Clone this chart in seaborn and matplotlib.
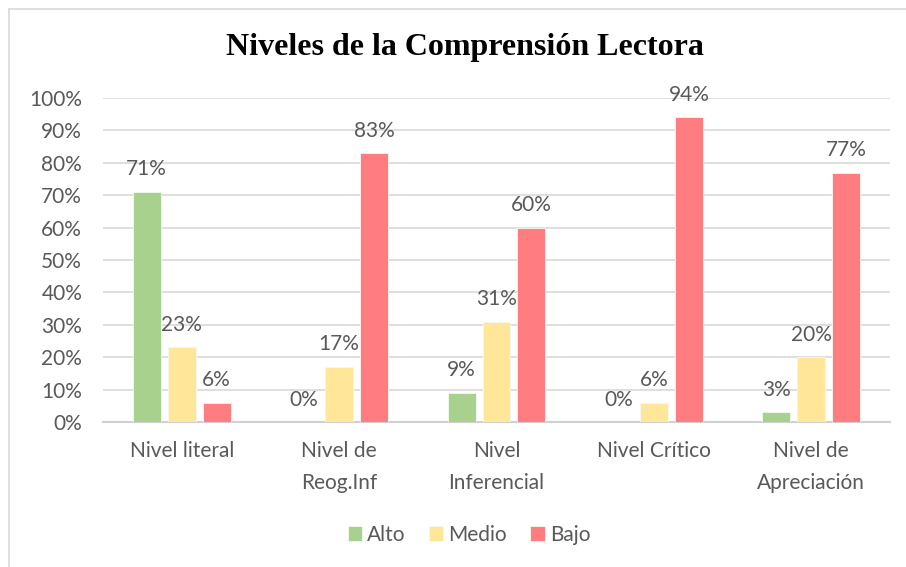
import matplotlib
matplotlib.use("Agg")
import matplotlib.pyplot as plt
import seaborn as sns
import pandas as pd
from matplotlib.lines import Line2D
from matplotlib.ticker import FuncFormatter, MultipleLocator

categories = ["Nivel literal", "Nivel de\nReog.Inf", "Nivel\nInferencial", "Nivel Crítico", "Nivel de\nApreciación"]
series = ["Alto", "Medio", "Bajo"]
alto = [71, 0, 9, 0, 3]
medio = [23, 17, 31, 6, 20]
bajo = [6, 83, 60, 94, 77]
colors = ["#A9D18E", "#FFE699", "#FF7C80"]

rows = []
for s, vals in zip(series, [alto, medio, bajo]):
    for c, v in zip(categories, vals):
        rows.append({"cat": c, "serie": s, "val": v})
df = pd.DataFrame(rows)

sns.set_theme(style="white")
plt.rcParams["font.family"] = ["Lato", "DejaVu Sans"]
text_color = "#595959"
fs = 15

fig = plt.figure(figsize=(9.06, 5.67), dpi=100)
ax = fig.add_axes([103/906, 1-422/567, (890-103)/906, (422-98)/567])

sns.barplot(data=df, x="cat", y="val", hue="serie", hue_order=series,
            order=categories, palette=colors, saturation=1, width=0.667, gap=0.2,
            edgecolor="#F4FAF0", linewidth=0.6, ax=ax, legend=True, zorder=3)

for cont, vals in zip(ax.containers, [alto, medio, bajo]):
    ax.bar_label(cont, labels=[f"{v}%" for v in vals], padding=9,
                 fontsize=fs, color=text_color)

ax.set_ylim(0, 100)
ax.yaxis.set_major_locator(MultipleLocator(10))
ax.yaxis.set_major_formatter(FuncFormatter(lambda v, p: f"{int(v)}%"))
ax.set_xlim(-0.5, 4.5)
ax.grid(axis="y", color="#D9D9D9", linewidth=1.2, zorder=0)
ax.set_axisbelow(True)
for sp in ["top", "right", "left"]:
    ax.spines[sp].set_visible(False)
ax.spines["bottom"].set_color("#D0D0D0")
ax.spines["bottom"].set_linewidth(1.5)
ax.tick_params(axis="y", length=0, pad=15, labelsize=fs, labelcolor=text_color)
ax.tick_params(axis="x", length=0, pad=14, labelsize=fs, labelcolor=text_color)
for lab in ax.get_xticklabels():
    lab.set_linespacing(1.75)
ax.set_xlabel("")
ax.set_ylabel("")

leg = ax.legend(loc="center", bbox_to_anchor=(469/906, 1-535/567),
                bbox_transform=fig.transFigure, ncol=3, frameon=False,
                fontsize=fs, handlelength=0.7, handleheight=0.7,
                handletextpad=0.25, columnspacing=1.1)
for t in leg.get_texts():
    t.set_color(text_color)

fig.text(465/906, 1-48/567, "Niveles de la Comprensión Lectora",
         ha="center", va="center", fontsize=23, fontweight="bold",
         family="Liberation Serif", color="black")

fig.add_artist(Line2D([8.5/906, 8.5/906], [0, 1-9/567], transform=fig.transFigure,
                      color="#D9D9D9", linewidth=1.2))
fig.add_artist(Line2D([8.5/906, 1], [1-9/567, 1-9/567], transform=fig.transFigure,
                      color="#D9D9D9", linewidth=1.2))

fig.savefig("out.png", dpi=100, facecolor="white")
